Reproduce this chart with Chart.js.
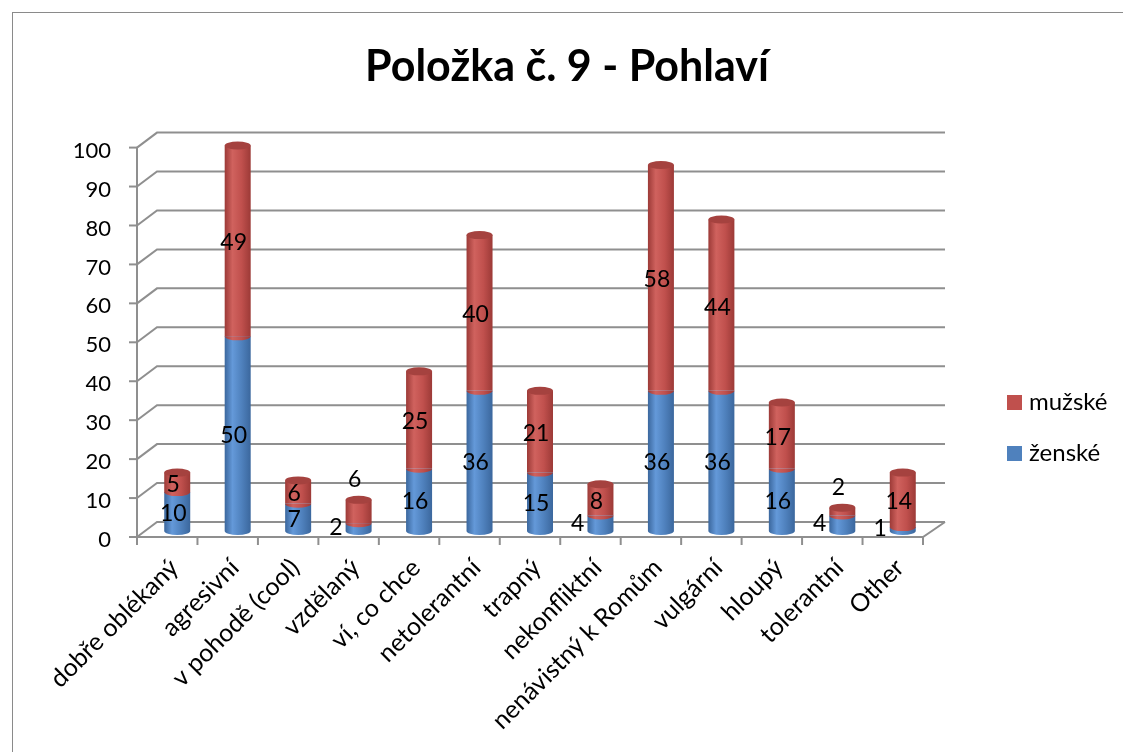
<!DOCTYPE html>
<html>
<head>
<meta charset="utf-8">
<title>Položka č. 9 - Pohlaví</title>
<script src="https://cdn.jsdelivr.net/npm/chart.js@4.4.0/dist/chart.umd.min.js"></script>
<style>
    html, body { margin: 0; padding: 0; background: #fff; overflow: hidden; }
    #obal { position: relative; width: 1123px; height: 752px; }
</style>
</head>
<body>
<div id="obal"><canvas id="graf"></canvas></div>
<script>
// Data z grafu
const kategorie = [
    "dobře oblékaný", "agresivní", "v pohodě (cool)", "vzdělaný", "ví, co chce",
    "netolerantní", "trapný", "nekonfliktní", "nenávistný k Romům", "vulgární",
    "hloupý", "tolerantní", "Other"
];
const zenske = [10, 50, 7, 2, 16, 36, 15, 4, 36, 36, 16, 4, 1];
const muzske = [5, 49, 6, 6, 25, 40, 21, 8, 58, 44, 17, 2, 14];
const osaY = [0, 10, 20, 30, 40, 50, 60, 70, 80, 90, 100];

const PISMO = "Lato, 'Open Sans', sans-serif";

// barvy válců: okraj, světlý pruh, základ, horní víčko
const modra = { tmava: "#3b679d", svetla: "#6499d9", zaklad: "#4f81bd", vicko: "#4172ad" };
const cervena = { tmava: "#9c3a37", svetla: "#d0625e", zaklad: "#c0504d", vicko: "#a5423f" };

function prechod(ctx, x, w, b) {
    const g = ctx.createLinearGradient(x - w / 2, 0, x + w / 2, 0);
    g.addColorStop(0, b.tmava);
    g.addColorStop(0.3, b.svetla);
    g.addColorStop(0.65, b.zaklad);
    g.addColorStop(1, b.tmava);
    return g;
}

function barvaValce(c, b) {
    const el = c.element;
    if (!el || !isFinite(el.x) || !el.width) return b.zaklad;
    return prechod(c.chart.ctx, el.x, el.width, b);
}

// 3D stěny, mřížka, víčka válců, popisky a legenda
const valce = {
    id: "valce",
    beforeDraw(chart) {
        const ctx = chart.ctx;
        ctx.save();
        ctx.fillStyle = "#fff";
        ctx.fillRect(0, 0, chart.width, chart.height);
        ctx.strokeStyle = "#8a8a8a";
        ctx.lineWidth = 1;
        ctx.strokeRect(12.5, 12.5, chart.width + 50, chart.height + 50);
        ctx.restore();
    },
    beforeDatasetsDraw(chart) {
        const ctx = chart.ctx;
        const { left, right } = chart.chartArea;
        const y = chart.scales.y;
        const front = left - 10;
        ctx.save();
        ctx.strokeStyle = "#8f8f8f";
        ctx.lineWidth = 2;
        osaY.forEach(v => {
            const py = y.getPixelForValue(v);
            ctx.beginPath();
            ctx.moveTo(front, py + 6);
            ctx.lineTo(left + 10, py - 9);
            ctx.lineTo(right + 12, py - 9);
            ctx.stroke();
            // značky na přední ose
            ctx.beginPath();
            ctx.moveTo(front - 8, py + 6);
            ctx.lineTo(front, py + 6);
            ctx.stroke();
        });
        const y0 = y.getPixelForValue(0) + 6;
        const y100 = y.getPixelForValue(100) + 6;
        ctx.beginPath();
        ctx.moveTo(front, y100);
        ctx.lineTo(front, y0);
        ctx.lineTo(right - 10, y0);
        ctx.lineTo(right + 12, y0 - 15);
        ctx.stroke();
        const krok = (right - left) / kategorie.length;
        for (let i = 0; i <= kategorie.length; i++) {
            const px = front + i * krok;
            ctx.beginPath();
            ctx.moveTo(px, y0);
            ctx.lineTo(px, y0 + 8);
            ctx.stroke();
        }
        ctx.restore();
    },
    afterDatasetsDraw(chart) {
        const ctx = chart.ctx;
        const sady = chart.data.datasets;
        const barvy = [modra, cervena];
        ctx.save();
        // spodní oblouky každého segmentu
        sady.forEach((ds, d) => {
            chart.getDatasetMeta(d).data.forEach(el => {
                ctx.beginPath();
                ctx.ellipse(el.x, el.base, el.width / 2, 4, 0, 0, Math.PI);
                ctx.fillStyle = prechod(ctx, el.x, el.width, barvy[d]);
                ctx.fill();
            });
        });
        // horní víčka
        const horni = chart.getDatasetMeta(sady.length - 1).data;
        horni.forEach(el => {
            ctx.beginPath();
            ctx.ellipse(el.x, el.y, el.width / 2, 4, 0, 0, Math.PI * 2);
            ctx.fillStyle = cervena.vicko;
            ctx.fill();
        });
        // popisky hodnot
        ctx.font = "23px " + PISMO;
        ctx.fillStyle = "#000";
        ctx.textBaseline = "middle";
        sady.forEach((ds, d) => {
            chart.getDatasetMeta(d).data.forEach((el, i) => {
                const v = ds.data[i];
                const stred = (el.y + el.base) / 2;
                const celkem = zenske[i] + muzske[i];
                if (d === 0 && v < 5) {
                    ctx.textAlign = "right";
                    ctx.fillText(v, el.x - el.width / 2 - 3, stred);
                } else if (d === 1 && celkem < 10) {
                    ctx.textAlign = "center";
                    ctx.fillText(v, el.x - 4, el.y - 20);
                } else {
                    ctx.textAlign = "center";
                    ctx.fillText(v, el.x - 4, stred + 2);
                }
            });
        });
        ctx.restore();
    },
    afterDraw(chart) {
        const ctx = chart.ctx;
        const x = chart.chartArea.right + 74;
        const polozky = [
            { text: chart.data.datasets[1].label, barva: cervena.zaklad, y: 402 },
            { text: chart.data.datasets[0].label, barva: modra.zaklad, y: 453 }
        ];
        ctx.save();
        ctx.font = "24px " + PISMO;
        ctx.textBaseline = "middle";
        ctx.textAlign = "left";
        polozky.forEach(p => {
            ctx.fillStyle = p.barva;
            ctx.fillRect(x, p.y - 7, 15, 15);
            ctx.fillStyle = "#000";
            ctx.fillText(p.text, x + 22, p.y);
        });
        ctx.restore();
    }
};

const graf = new Chart(document.getElementById("graf"), {
    type: "bar",
    data: {
        labels: kategorie,
        datasets: [
            {
                label: "ženské",
                data: zenske,
                backgroundColor: c => barvaValce(c, modra),
                barPercentage: 0.43,
                categoryPercentage: 1
            },
            {
                label: "mužské",
                data: muzske,
                backgroundColor: c => barvaValce(c, cervena),
                barPercentage: 0.43,
                categoryPercentage: 1
            }
        ]
    },
    options: {
        responsive: true,
        maintainAspectRatio: false,
        animation: false,
        layout: { padding: { left: 27, right: 16, top: 0, bottom: 0 } },
        plugins: {
            legend: { display: false },
            tooltip: { enabled: false },
            title: {
                display: true,
                text: "Položka č. 9 - Pohlaví",
                color: "#000",
                font: { family: PISMO, size: 43, weight: "bold" },
                padding: { top: 41, bottom: 49 }
            }
        },
        scales: {
            x: {
                stacked: true,
                grid: { display: false, drawTicks: false },
                border: { display: false },
                ticks: {
                    color: "#000",
                    font: { family: PISMO, size: 25 },
                    autoSkip: false,
                    maxRotation: 45,
                    minRotation: 45,
                    padding: 22,
                    labelOffset: -3
                },
                afterFit: s => { s.height = 221; }
            },
            y: {
                stacked: true,
                min: 0,
                max: 100,
                grid: { display: false, drawTicks: false },
                border: { display: false },
                afterBuildTicks: s => { s.ticks = osaY.map(v => ({ value: v })); },
                ticks: {
                    color: "#000",
                    font: { family: PISMO, size: 22 },
                    padding: 36,
                    labelOffset: 9
                },
                afterFit: s => { s.width = 120; }
            },
            mezera: {
                position: "right",
                display: true,
                grid: { display: false, drawTicks: false },
                border: { display: false },
                ticks: { display: false },
                afterFit: s => { s.width = 174; }
            }
        }
    },
    plugins: [valce]
});
// druhý průchod, aby přechody válců znaly polohu sloupců
graf.update("none");
</script>
</body>
</html>
